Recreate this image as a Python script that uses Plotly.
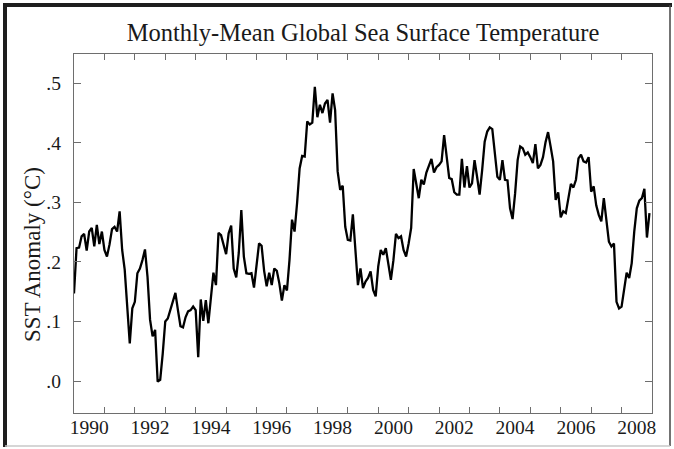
import plotly.graph_objects as go

# Monthly SST anomaly (deg C), January 1990 .. December 2008
sst_1990 = [0.147, 0.223, 0.224, 0.243, 0.247, 0.219, 0.251, 0.257, 0.226, 0.262, 0.230, 0.251]
sst_1991 = [0.220, 0.209, 0.229, 0.255, 0.259, 0.251, 0.285, 0.220, 0.187, 0.125, 0.063, 0.122]
sst_1992 = [0.133, 0.181, 0.189, 0.203, 0.221, 0.175, 0.103, 0.075, 0.086, -0.001, 0.002, 0.046]
sst_1993 = [0.100, 0.105, 0.119, 0.131, 0.148, 0.119, 0.092, 0.090, 0.107, 0.117, 0.119, 0.125]
sst_1994 = [0.119, 0.040, 0.137, 0.101, 0.136, 0.097, 0.139, 0.182, 0.161, 0.249, 0.245, 0.231]
sst_1995 = [0.213, 0.248, 0.261, 0.189, 0.174, 0.215, 0.287, 0.209, 0.181, 0.180, 0.181, 0.157]
sst_1996 = [0.192, 0.231, 0.227, 0.185, 0.159, 0.182, 0.161, 0.189, 0.185, 0.164, 0.135, 0.161]
sst_1997 = [0.152, 0.203, 0.271, 0.251, 0.299, 0.357, 0.378, 0.377, 0.436, 0.431, 0.434, 0.494]
sst_1998 = [0.443, 0.464, 0.450, 0.466, 0.472, 0.434, 0.483, 0.455, 0.352, 0.321, 0.328, 0.259]
sst_1999 = [0.237, 0.236, 0.280, 0.220, 0.161, 0.189, 0.156, 0.167, 0.173, 0.184, 0.153, 0.142]
sst_2000 = [0.192, 0.220, 0.212, 0.223, 0.192, 0.170, 0.203, 0.247, 0.240, 0.243, 0.220, 0.209]
sst_2001 = [0.231, 0.257, 0.356, 0.329, 0.307, 0.338, 0.330, 0.350, 0.363, 0.373, 0.350, 0.359]
sst_2002 = [0.363, 0.369, 0.413, 0.374, 0.341, 0.339, 0.317, 0.313, 0.313, 0.373, 0.325, 0.361]
sst_2003 = [0.325, 0.332, 0.371, 0.343, 0.313, 0.354, 0.402, 0.419, 0.426, 0.423, 0.383, 0.343]
sst_2004 = [0.338, 0.371, 0.338, 0.337, 0.290, 0.272, 0.315, 0.371, 0.394, 0.391, 0.380, 0.384]
sst_2005 = [0.376, 0.366, 0.398, 0.357, 0.363, 0.376, 0.401, 0.418, 0.394, 0.369, 0.304, 0.317]
sst_2006 = [0.275, 0.285, 0.282, 0.310, 0.331, 0.325, 0.338, 0.374, 0.380, 0.369, 0.367, 0.376]
sst_2007 = [0.318, 0.327, 0.295, 0.279, 0.268, 0.307, 0.271, 0.234, 0.226, 0.231, 0.133, 0.122]
sst_2008 = [0.125, 0.153, 0.182, 0.173, 0.198, 0.251, 0.290, 0.303, 0.307, 0.323, 0.241, 0.282]

years = list(range(1990, 2009))
label_years = list(range(1990, 2009, 2))
label_text = [str(y) for y in label_years]
y_ticks = [0.0, 0.1, 0.2, 0.3, 0.4, 0.5]
y_text = [".0", ".1", ".2", ".3", ".4", ".5"]

series = (sst_1990 + sst_1991 + sst_1992 + sst_1993 + sst_1994 + sst_1995 + sst_1996
          + sst_1997 + sst_1998 + sst_1999 + sst_2000 + sst_2001 + sst_2002 + sst_2003
          + sst_2004 + sst_2005 + sst_2006 + sst_2007 + sst_2008)
x_time = [years[0] + i / 12 for i in range(len(series))]

SERIF = "Liberation Serif, Times New Roman, serif"
AXIS_GRAY = "#6e6e6e"
TXT = "#1a1a1a"
xr = [1990, 2009]

# plot-area geometry in pixels
L, R, T, B = 74, 652, 54, 413
W, H = 674, 449


def px_x(px):
    return (px - L) / (R - L)


def px_y(py):
    return (B - py) / (B - T)


fig = go.Figure()
fig.add_trace(go.Scatter(x=x_time, y=series, mode="lines",
                         line=dict(color="black", width=2.3),
                         showlegend=False, hoverinfo="skip"))
# helper trace so the label axis is drawn
fig.add_trace(go.Scatter(x=[xr[0]], y=[None], xaxis="x2", mode="lines",
                         showlegend=False, hoverinfo="skip"))

fig.update_layout(
    width=W, height=H,
    margin=dict(l=L, r=W - R, t=T, b=H - B),
    paper_bgcolor="white", plot_bgcolor="white",
    font=dict(family=SERIF, color=TXT),
    title=dict(text="Monthly-Mean Global Sea Surface Temperature",
               x=0.5, xref="paper", xanchor="center",
               y=1 - 32 / H, yref="container", yanchor="middle",
               font=dict(family=SERIF, size=24.5, color=TXT)),
    xaxis=dict(range=xr, tickmode="array", tickvals=[y + 1 for y in years[:-1]],
               showticklabels=False, ticks="inside", ticklen=6, tickwidth=1,
               tickcolor=AXIS_GRAY, showline=True, linecolor=AXIS_GRAY,
               linewidth=1.2, mirror="ticks", showgrid=False, zeroline=False),
    xaxis2=dict(range=xr, overlaying="x", side="bottom", tickmode="array",
                tickvals=[y + 0.5 for y in label_years], ticktext=label_text,
                ticks="", showline=False, showgrid=False, zeroline=False,
                ticklabelstandoff=0,
                tickfont=dict(family=SERIF, size=19.5, color=TXT)),
    yaxis=dict(range=[-(B - 381) / 595.4, 0.5 + (83.3 - T) / 595.4],
               tickmode="array", tickvals=y_ticks,
               ticktext=y_text, ticks="inside", ticklen=7, tickwidth=1,
               tickcolor=AXIS_GRAY, showline=True, linecolor=AXIS_GRAY,
               linewidth=1.2, mirror="ticks", showgrid=False, zeroline=False,
               ticklabelstandoff=8,
               tickfont=dict(family=SERIF, size=19.5, color=TXT)),
)

# y-axis title
fig.add_annotation(text="SST Anomaly (°C)", textangle=-90, showarrow=False,
                   xref="paper", yref="paper", x=px_x(32), y=px_y(255),
                   xanchor="center", yanchor="middle",
                   font=dict(family=SERIF, size=23, color=TXT))

# outer frame around the whole figure (dark top/left/right, light bottom)
fig.add_shape(type="line", xref="paper", yref="paper", x0=px_x(5), x1=px_x(5),
              y0=px_y(447), y1=px_y(3), line=dict(color="#1e1e1e", width=4))
fig.add_shape(type="line", xref="paper", yref="paper", x0=px_x(3), x1=px_x(672),
              y0=px_y(5), y1=px_y(5), line=dict(color="#1e1e1e", width=4))
fig.add_shape(type="line", xref="paper", yref="paper", x0=px_x(670), x1=px_x(670),
              y0=px_y(446), y1=px_y(5), line=dict(color="#444444", width=1.5))
fig.add_shape(type="line", xref="paper", yref="paper", x0=px_x(5), x1=px_x(670),
              y0=px_y(446), y1=px_y(446), line=dict(color="#c8c8c8", width=1.5))

fig.write_html("out.html",
               config={"displayModeBar": False, "staticPlot": True},
               post_script="document.body.style.margin='0';"
                           "document.body.style.padding='0';"
                           "document.body.style.overflow='hidden';")
